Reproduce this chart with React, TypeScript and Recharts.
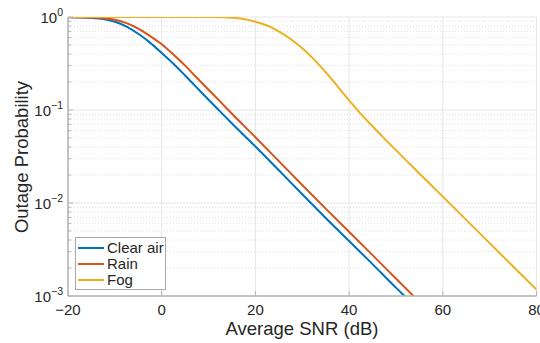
import { LineChart, Line, XAxis, YAxis, CartesianGrid } from 'recharts';

const snrClear = [-20, -17.5, -15, -12.5, -10, -7.5, -5, -2.5, 0, 2.5, 5, 7.5, 10, 12.5, 15, 20, 25, 30, 35, 40, 45, 50, 52];
const pClear = [0.996, 0.99, 0.978, 0.95, 0.89, 0.79, 0.66, 0.53, 0.41, 0.315, 0.235, 0.174, 0.129, 0.096, 0.0715, 0.0405, 0.0225, 0.0124, 0.0069, 0.0039, 0.0022, 0.00123, 0.00098];

const snrRain = [-20, -17.5, -15, -12.5, -10, -7.5, -5, -2.5, 0, 2.5, 5, 7.5, 10, 12.5, 15, 20, 25, 30, 35, 40, 45, 50, 54];
const pRain = [0.998, 0.994, 0.986, 0.968, 0.935, 0.86, 0.75, 0.625, 0.51, 0.395, 0.3, 0.222, 0.165, 0.123, 0.091, 0.051, 0.0282, 0.0156, 0.0087, 0.0049, 0.00275, 0.00154, 0.00097];

const snrFog = [-20, -10, 0, 5, 10, 12.5, 15, 17.5, 20, 22.5, 25, 27.5, 30, 32.5, 35, 37.5, 40, 42.5, 45, 47.5, 50, 52.5, 55, 57.5, 60, 65, 70, 75, 80];
const pFog = [1, 1, 1, 0.9999, 0.998, 0.993, 0.982, 0.95, 0.89, 0.81, 0.7, 0.58, 0.46, 0.35, 0.255, 0.181, 0.127, 0.091, 0.0668, 0.0495, 0.037, 0.0277, 0.0208, 0.0156, 0.0117, 0.00658, 0.0037, 0.00208, 0.00117];

const xTicks = [-20, 0, 20, 40, 60, 80];
const yMajor = [0.001, 0.01, 0.1, 1];
const yExp = ['\u22123', '\u22122', '\u22121', '0'];
const yMinor = [0.001, 0.01, 0.1].flatMap(d => [2, 3, 4, 5, 6, 7, 8, 9].map(m => +(d * m).toPrecision(3)));

const series = [
  { name: 'Clear air', color: '#0072BD', data: snrClear.map((x, i) => ({ x, p: pClear[i] })) },
  { name: 'Rain', color: '#D95319', data: snrRain.map((x, i) => ({ x, p: pRain[i] })) },
  { name: 'Fog', color: '#EDB120', data: snrFog.map((x, i) => ({ x, p: pFog[i] })) },
];

const FONT = '"Liberation Sans", Arial, Helvetica, sans-serif';
const TEXT = '#262626';
const AXIS = '#b4b4b4';

function fmtX(v: number) {
  return v < 0 ? '\u2212' + Math.abs(v) : String(v);
}

function BottomTick({ x, y, payload }: any) {
  return (
    <g>
      <line x1={x} y1={y} x2={x} y2={y - 5} stroke={AXIS} strokeWidth={1} />
      <text x={x} y={y + 19} textAnchor="middle" fill={TEXT} fontSize={15} fontFamily={FONT}>
        {fmtX(payload.value)}
      </text>
    </g>
  );
}

function TopTick({ x, y }: any) {
  return <line x1={x} y1={y} x2={x} y2={y + 5} stroke={AXIS} strokeWidth={1} />;
}

function LeftTick({ x, y, payload }: any) {
  const idx = yMajor.indexOf(payload.value);
  if (idx < 0) return <line x1={x} y1={y} x2={x + 3} y2={y} stroke={AXIS} strokeWidth={1} />;
  return (
    <g>
      <line x1={x} y1={y} x2={x + 5} y2={y} stroke={AXIS} strokeWidth={1} />
      <text x={x - 5} y={y + 6} textAnchor="end" fill={TEXT} fontSize={15} fontFamily={FONT}>
        <tspan>10</tspan>
        <tspan dy={-7} fontSize={10.5}>{yExp[idx]}</tspan>
      </text>
    </g>
  );
}

function RightTick({ x, y, payload }: any) {
  const len = yMajor.includes(payload.value) ? 5 : 3;
  return <line x1={x} y1={y} x2={x - len} y2={y} stroke={AXIS} strokeWidth={1} />;
}

export default function App() {
  const yTicks = [...yMajor, ...yMinor].sort((a, b) => a - b);
  return (
    <div style={{ position: 'relative', width: 540, height: 343, background: '#fff', fontFamily: FONT }}>
      <style>{'body{margin:0}'}</style>
      <LineChart width={540} height={343} margin={{ top: 17, right: 3.5, left: 0, bottom: 0 }}>
        <CartesianGrid horizontal={false} stroke="#e6e6e6" strokeWidth={1} />
        <CartesianGrid vertical={false} horizontalValues={yMinor} stroke="#dedede" strokeDasharray="1 2" />
        <CartesianGrid vertical={false} horizontalValues={yMajor} stroke="#e6e6e6" />
        <XAxis
          type="number"
          dataKey="x"
          domain={[-20, 80]}
          ticks={xTicks}
          interval={0}
          allowDataOverflow
          height={47}
          tickSize={0}
          tickMargin={0}
          tickLine={false}
          axisLine={{ stroke: AXIS, strokeWidth: 1.5 }}
          tick={<BottomTick />}
        />
        <XAxis
          xAxisId="top"
          orientation="top"
          type="number"
          domain={[-20, 80]}
          ticks={xTicks}
          interval={0}
          allowDataOverflow
          height={0}
          tickSize={0}
          tickMargin={0}
          tickLine={false}
          axisLine={{ stroke: AXIS, strokeWidth: 1.5 }}
          tick={<TopTick />}
        />
        <YAxis
          scale="log"
          domain={[0.001, 1]}
          ticks={yTicks}
          interval={0}
          allowDataOverflow
          width={68}
          tickSize={0}
          tickMargin={0}
          tickLine={false}
          axisLine={{ stroke: AXIS, strokeWidth: 1.5 }}
          tick={<LeftTick />}
        />
        <YAxis
          yAxisId="right"
          orientation="right"
          scale="log"
          domain={[0.001, 1]}
          ticks={yTicks}
          interval={0}
          allowDataOverflow
          width={0}
          tickSize={0}
          tickMargin={0}
          tickLine={false}
          axisLine={{ stroke: AXIS, strokeWidth: 1.5 }}
          tick={<RightTick />}
        />
        {series.map(s => (
          <Line
            key={s.name}
            data={s.data}
            dataKey="p"
            name={s.name}
            type="monotone"
            stroke={s.color}
            strokeWidth={2}
            dot={false}
            activeDot={false}
            isAnimationActive={false}
          />
        ))}
      </LineChart>
      <svg width={540} height={343} style={{ position: 'absolute', left: 0, top: 0, pointerEvents: 'none' }}>
        <text x={302} y={335} textAnchor="middle" fill={TEXT} fontSize={18.5} fontFamily={FONT}>
          Average SNR (dB)
        </text>
        <text x={28} y={157} textAnchor="middle" fill={TEXT} fontSize={18.5} fontFamily={FONT} transform="rotate(-90 28 157)">
          Outage Probability
        </text>
      </svg>
      <div
        style={{
          position: 'absolute',
          left: 75,
          top: 237,
          width: 89,
          height: 51,
          border: '1px solid #a8a8a8',
          background: '#fff',
        }}
      >
        {series.map((s, i) => (
          <div key={s.name} style={{ position: 'absolute', left: 0, top: 1.5 + i * 16.3, height: 16, display: 'flex', alignItems: 'center' }}>
            <div style={{ marginLeft: 2, width: 26, height: 2, background: s.color }} />
            <span style={{ marginLeft: 3, fontSize: 15, color: TEXT, lineHeight: '16px', whiteSpace: 'nowrap' }}>{s.name}</span>
          </div>
        ))}
      </div>
    </div>
  );
}
